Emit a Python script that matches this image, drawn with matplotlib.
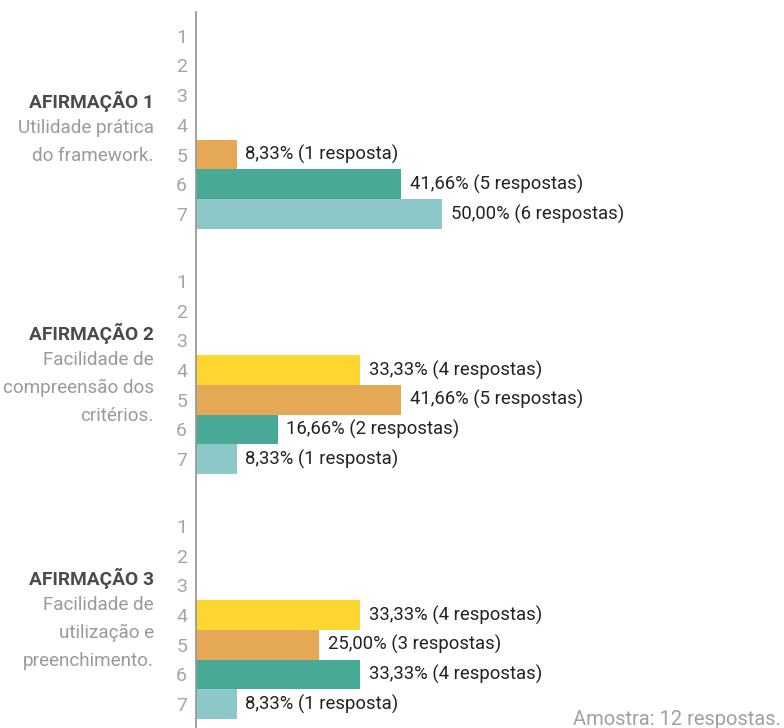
import matplotlib
matplotlib.use("Agg")
import matplotlib.pyplot as plt

plt.rcParams["font.family"] = ["Roboto", "DejaVu Sans"]

# Likert scale rows and the three statements
scale = ["1", "2", "3", "4", "5", "6", "7"]
titles = ["AFIRMAÇÃO 1", "AFIRMAÇÃO 2", "AFIRMAÇÃO 3"]
subtitles = [
    ["Utilidade prática", "do framework."],
    ["Facilidade de", "compreensão dos", "critérios."],
    ["Facilidade de", "utilização e", "preenchimento."],
]

# share of answers (%) and number of answers per scale point
pct_1 = [0, 0, 0, 0, 8.33, 41.66, 50.00]
pct_2 = [0, 0, 0, 33.33, 41.66, 16.66, 8.33]
pct_3 = [0, 0, 0, 33.33, 25.00, 33.33, 8.33]
count_1 = [0, 0, 0, 0, 1, 5, 6]
count_2 = [0, 0, 0, 4, 5, 2, 1]
count_3 = [0, 0, 0, 4, 3, 4, 1]
sample_note = "Amostra: 12 respostas."

row_colors = ["#FDD630", "#FDD630", "#FDD630", "#FDD630",
              "#E5A955", "#48A996", "#8DC8C8"]

percents = [pct_1, pct_2, pct_3]
counts = [count_1, count_2, count_3]
block_gap = 8.25

fig = plt.figure(figsize=(7.84, 7.28), dpi=100)
ax = fig.add_axes([196 / 784, 1 / 728, 588 / 784, 715 / 728])

ticks, tick_labels = [], []
for b in range(3):
    base = b * block_gap
    ys = [base + i for i in range(len(scale))]
    ticks += ys
    tick_labels += scale
    for y, v, n, c in zip(ys, percents[b], counts[b], row_colors):
        if v == 0:
            continue
        ax.barh(y, v, height=1.0, color=c, linewidth=0)
        word = "resposta" if n == 1 else "respostas"
        label = f"{v:.2f}".replace(".", ",") + f"% ({n} {word})"
        ax.annotate(label, xy=(v, y), xytext=(6, 0), textcoords="offset points",
                    ha="left", va="center", fontsize=13.3, color="#222222")

    # statement title and description to the left of the axis
    k = len(subtitles[b])
    y0 = base + 3.33 - 0.45 * k
    ax.annotate(titles[b], xy=(0, y0), xycoords=ax.get_yaxis_transform(),
                xytext=(-30.5, 0), textcoords="offset points",
                ha="right", va="baseline", fontsize=13.8, fontweight="bold",
                color="#4A4A4A")
    for i, line in enumerate(subtitles[b]):
        ax.annotate(line, xy=(0, y0 + 0.86 + 0.94 * i),
                    xycoords=ax.get_yaxis_transform(),
                    xytext=(-30.5, 0), textcoords="offset points",
                    ha="right", va="baseline", fontsize=13.6, color="#9A9A9A")

ax.set_xlim(0, 119.3)
ax.set_ylim(23.27, -0.8)
ax.set_yticks(ticks)
ax.set_yticklabels(tick_labels, fontsize=14, color="#A5A5A5")
ax.tick_params(axis="y", length=0, pad=6.5)
ax.set_xticks([])
for side in ["top", "right", "bottom"]:
    ax.spines[side].set_visible(False)
ax.spines["left"].set_color("#9A9A9A")
ax.spines["left"].set_linewidth(1.3)

fig.text(781 / 784, 3 / 728, sample_note, ha="right", va="baseline",
         fontsize=14.5, color="#A0A0A0")

fig.savefig("out.png", dpi=100)
